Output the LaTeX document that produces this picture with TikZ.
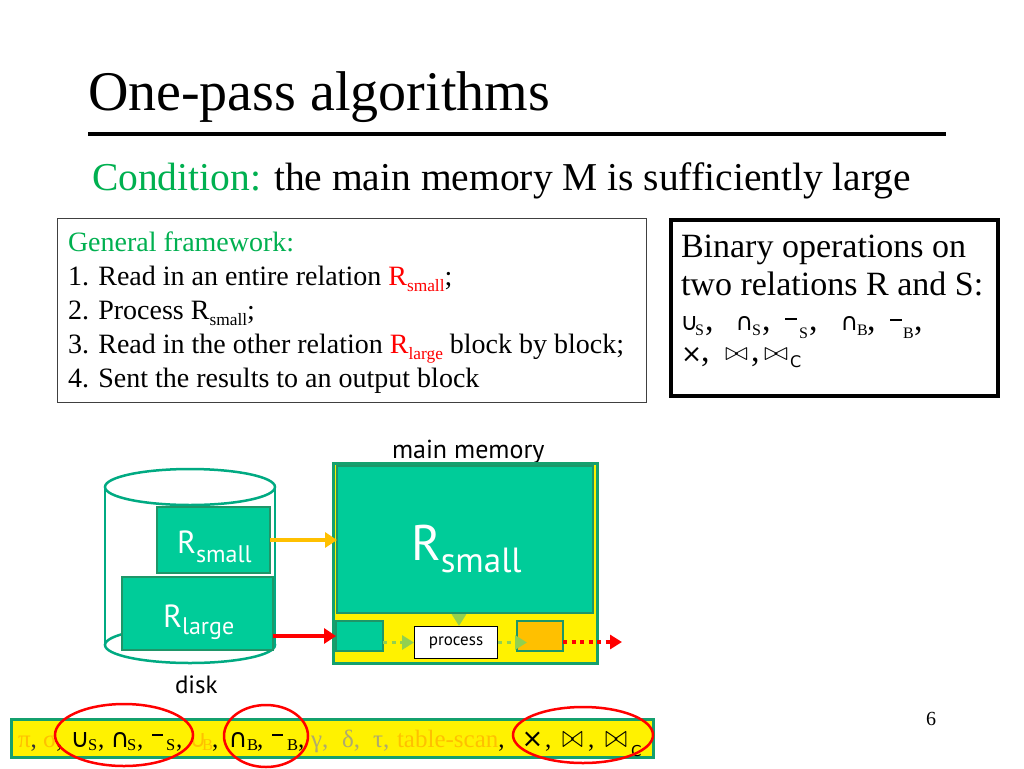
\documentclass[tikz,border=0pt]{standalone}
\usepackage{fontspec}
\usepackage{graphicx}
\setmainfont{Liberation Serif}
\newfontfamily\vf{DejaVu Sans}
\newfontfamily\pf{PT Sans}
\usetikzlibrary{arrows.meta}
\definecolor{cgreen}{RGB}{0,176,80}
\definecolor{tealfill}{RGB}{0,204,153}
\definecolor{tealline}{RGB}{30,150,105}
\definecolor{cyl}{RGB}{0,170,130}
\definecolor{orng}{RGB}{255,192,0}
\definecolor{lgreen}{RGB}{146,208,80}
\definecolor{gryol}{RGB}{175,170,110}
\definecolor{barline}{RGB}{20,160,110}
\newcommand\mysub[1]{\raisebox{-0.22em}{\scalebox{0.62}{#1}}}
\newcommand\pc[4]{\node[txt] (#1) at (#2,#3) {#4};}
\newcommand\rsym[3]{\resizebox{#1pt}{#2pt}{$#3$}}
\newcommand\dsym[2]{\resizebox{!}{#1pt}{\vf\fontsize{20}{20}\selectfont #2}}
\begin{document}
\begin{tikzpicture}[x=1pt,y=-1pt,
  txt/.style={anchor=base west, inner sep=0pt, outer sep=0pt},
  tbox/.style={draw=tealline, line width=2.5pt, fill=tealfill, anchor=north west, inner sep=0pt, outer sep=0pt},
  wtxt/.style={txt, text=white, font=\pf},
  gdot/.style={lgreen, line width=3.5pt, dash pattern=on 4pt off 4.5pt, -{Triangle[length=12pt,width=14pt]}},
  ring/.style={red, line width=2.5pt}]
\useasboundingbox (0,0) rectangle (1024,768);
\fill[white] (0,0) rectangle (1024,768);

% title
\node[txt, font=\fontsize{56}{60}\selectfont] (title) at (88,110) {One-pass algorithms};
\draw[line width=4pt] (88,134) -- (946,134);
\node[txt, font=\fontsize{39.5}{44}\selectfont] (cond) at (92,190) {\textcolor{cgreen}{Condition:} the main memory M is sufficiently large};

% general framework box
\node[draw=black!75, line width=1pt, anchor=north west, minimum width=589pt, minimum height=184pt, inner sep=0pt] (fw) at (57,218) {};
\begin{scope}[every node/.style={txt, font=\fontsize{28}{30}\selectfont}]
\node (f0) at (68,251) {\textcolor{cgreen}{General framework:}};
\node (f1) at (68,285) {1. Read in an entire relation \textcolor{red}{R\mysub{small}};};
\node (f2) at (68,319) {2. Process R\mysub{small};};
\node (f3) at (68,353) {3. Read in the other relation \textcolor{red}{R\mysub{large}} block by block;};
\node (f4) at (68,387) {4. Sent the results to an output block};
\end{scope}

% binary box
\node[draw=black, line width=4pt, anchor=north west, minimum width=327pt, minimum height=176pt, inner sep=0pt] (bin) at (669,218) {};
\begin{scope}[every node/.style={txt, font=\fontsize{34}{36}\selectfont}]
\node (b1) at (681,257) {Binary operations on};
\node (b2) at (681,295) {two relations R and S:};
\pc{c1}{680.5}{330}{\dsym{14}{∪}}
\pc{c2}{695}{335}{\fontsize{16}{16}\selectfont S}
\pc{c3}{705}{330}{,}
\pc{c4}{735.5}{330}{\dsym{14}{∩}}
\pc{c5}{752}{335}{\fontsize{16}{16}\selectfont S}
\pc{c6}{762}{330}{,}
\draw[line width=1.5pt] (785,319) -- (797,319);
\pc{c7}{799}{338}{\fontsize{16}{16}\selectfont S}
\pc{c8}{809}{330}{,}
\pc{c9}{840.5}{330}{\dsym{14}{∩}}
\pc{c10}{857}{335}{\fontsize{16}{16}\selectfont B}
\pc{c11}{867}{330}{,}
\draw[line width=1.5pt] (890,320) -- (902,320);
\pc{c12}{903}{338}{\fontsize{16}{16}\selectfont B}
\pc{c13}{914}{330}{,}
\pc{d1}{681}{362}{\dsym{15}{×}}
\pc{d2}{701}{361}{,}
\pc{d3}{725}{360}{\rsym{23}{12}{\bowtie}}
\pc{d4}{751}{361}{,}
\pc{d5}{764}{360}{\rsym{24}{12}{\bowtie}}
\pc{d6}{790}{367}{\vf\fontsize{16}{16}\selectfont C}
\end{scope}

% disk cylinder
\draw[cyl, line width=2.5pt] (190,645) ellipse [x radius=85, y radius=18];
\fill[white] (105,487) rectangle (275,645);
\draw[cyl, line width=2.5pt] (105,487) -- (105,645);
\draw[cyl, line width=2.5pt] (275,487) -- (275,645);
\draw[cyl, line width=2.5pt, fill=white] (190,487) ellipse [x radius=85, y radius=18];
\draw[cyl, line width=2.5pt] (105,645) arc[start angle=180, end angle=360, x radius=85, y radius=18];
\node[tbox, minimum width=113pt, minimum height=66pt] (rs) at (157,507) {};
\node[tbox, minimum width=151pt, minimum height=73pt] (rl) at (122,577) {};
\node[wtxt, font=\pf\fontsize{32}{32}\selectfont] (rst) at (177,553) {R\raisebox{-9pt}{\fontsize{24}{24}\selectfont small}};
\node[wtxt, font=\pf\fontsize{32}{32}\selectfont] (rlt) at (163,627) {R\raisebox{-7pt}{\fontsize{24}{24}\selectfont large}};
\node[txt, font=\pf\fontsize{25}{25}\selectfont] (disk) at (175,693) {disk};

% main memory
\node[txt, font=\pf\fontsize{26}{26}\selectfont] (mmt) at (392,458) {main memory};
\node[draw=barline, line width=2.5pt, fill=yellow, anchor=north west, minimum width=264pt, minimum height=200pt, inner sep=0pt] (mem) at (332,462) {};
\node[tbox, minimum width=256pt, minimum height=147pt] (big) at (337,466) {};
\node[wtxt, font=\pf\fontsize{50}{50}\selectfont] (bigt) at (411,560) {R\raisebox{-12pt}{\fontsize{35}{35}\selectfont small}};
\node[tbox, minimum width=47pt, minimum height=30pt] (blk) at (336,621) {};
\node[draw=black, line width=1pt, fill=white, anchor=north west, minimum width=83pt, minimum height=32pt, inner sep=0pt, font=\pf\fontsize{17}{17}\selectfont] (proc) at (414,626) {process};
\node[tbox, fill=orng, minimum width=46pt, minimum height=30pt] (outb) at (517,621) {};

% arrows
\draw[orng, line width=4pt, -{Triangle[length=12pt,width=15pt]}] (rs.east) -- (rs.east -| big.west);
\draw[red, line width=4pt, -{Triangle[length=12pt,width=15pt]}] (rl.east |- blk.west) -- (blk.west);
\coordinate (dtop) at ([yshift=-10pt]proc.north |- big.south);
\draw[gdot] ([xshift=3pt]dtop) -- ([xshift=3pt]proc.north);
\draw[gdot] (blk.east |- proc.west) -- (proc.west);
\draw[gdot] (proc.east) -- ([xshift=10pt]outb.west |- proc.east);
\coordinate (rend) at (622,642);
\draw[red, line width=3.5pt, dash pattern=on 4pt off 4.5pt, -{Triangle[length=12pt,width=14pt]}] (outb.east |- rend) -- (rend);

% page number
\node[txt, font=\fontsize{20}{20}\selectfont] (pg) at (926,725) {6};

% bottom bar
\node[draw=barline, line width=3pt, fill=yellow, anchor=north west, minimum width=642pt, minimum height=38pt, inner sep=0pt] (bar) at (10,718) {};
\begin{scope}[every node/.style={txt, font=\fontsize{25}{25}\selectfont}]
\pc{e1}{18}{747}{\textcolor{orng}{π}\textcolor{black!80}{,}}
\pc{e2}{43}{747}{\textcolor{orng}{σ},}
\pc{e3}{70.5}{747}{\dsym{15}{∪}}
\pc{e4}{88}{750}{\fontsize{16.5}{16.5}\selectfont S}
\pc{e5}{98}{747}{,}
\pc{e6}{110.5}{747}{\dsym{15}{∩}}
\pc{e7}{127}{750}{\fontsize{16.5}{16.5}\selectfont S}
\pc{e8}{137}{747}{,}
\draw[line width=1.3pt] (152,735) -- (163,735);
\pc{e9}{166}{750}{\fontsize{16.5}{16.5}\selectfont S}
\pc{e10}{176}{747}{,}
\pc{e11}{189}{747}{\color{orng}\dsym{14}{∪}}
\pc{e12}{202}{750}{\color{orng}\fontsize{16.5}{16.5}\selectfont B}
\pc{e13}{212}{747}{,}
\pc{e14}{228.5}{747}{\dsym{15}{∩}}
\pc{e15}{247}{750}{\fontsize{16.5}{16.5}\selectfont B}
\pc{e16}{257}{747}{,}
\draw[line width=1.3pt] (272,735) -- (283,735);
\pc{e17}{287}{750}{\fontsize{16.5}{16.5}\selectfont B}
\pc{e18}{298}{747}{,}
\pc{e19}{311}{747}{\textcolor{gryol}{γ,}}
\pc{e20}{342}{747}{\textcolor{gryol}{δ,}}
\pc{e21}{373}{747}{\textcolor{gryol}{τ,}}
\pc{e22}{397}{747}{\textcolor{orng}{table-scan},}
\pc{e23}{521.5}{747}{\dsym{15.5}{×}}
\pc{e24}{545}{747}{,}
\pc{e25}{562}{747}{\rsym{21}{15}{\bowtie}}
\pc{e26}{588}{747}{,}
\pc{e27}{605}{747}{\rsym{22}{15}{\bowtie}}
\pc{e28}{631}{756}{\vf\fontsize{15}{15}\selectfont C}
\end{scope}
\draw[ring] (124,735) ellipse [x radius=69, y radius=31];
\draw[ring] (266,736) ellipse [x radius=42, y radius=31];
\draw[ring] (583,735) ellipse [x radius=70, y radius=28];
\end{tikzpicture}
\end{document}
